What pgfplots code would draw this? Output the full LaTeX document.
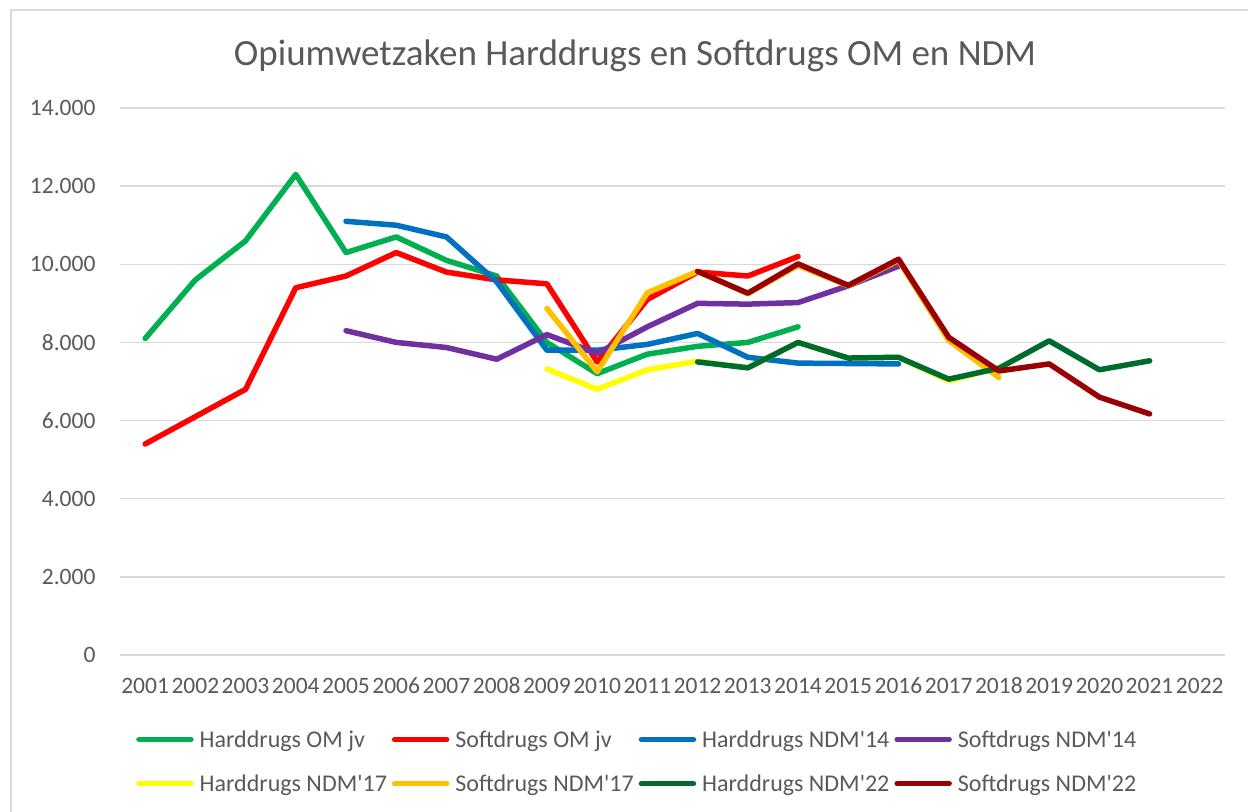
\documentclass[border=0pt]{standalone}
\usepackage{pgfplots}
\pgfplotsset{compat=1.18}
\usepackage{fontspec}
\setmainfont{Carlito}[Ligatures=TeXOff]
\definecolor{cgrid}{HTML}{D9D9D9}
\definecolor{ctext}{HTML}{595959}
\definecolor{cgreen}{HTML}{00B050}
\definecolor{cred}{HTML}{FF0000}
\definecolor{cblue}{HTML}{0070C0}
\definecolor{cpurple}{HTML}{7030A0}
\definecolor{cyellow}{HTML}{FFFF00}
\definecolor{corange}{HTML}{FFC000}
\definecolor{cdgreen}{HTML}{006B2F}
\definecolor{cdred}{HTML}{990000}
\begin{document}
\begin{tikzpicture}
\path[use as bounding box] (0bp,0bp) rectangle (1248bp,812bp);
\draw[cgrid, line width=2bp] (11bp,-10bp) -- (11bp,802bp) -- (1260bp,802bp);
\node[anchor=base, font=\fontsize{37bp}{44bp}\selectfont, text=ctext] at (635bp,746bp) {Opiumwetzaken Harddrugs en Softdrugs OM en NDM};
\begin{axis}[
  at={(120bp,157bp)}, anchor=south west,
  scale only axis, width=1105bp, height=547bp,
  xmin=2000.5, xmax=2022.5, ymin=0, ymax=14000,
  xtick={2001,2002,...,2022},
  ytick={0,2000,...,14000},
  scaled y ticks=false,
  ymajorgrids, major grid style={cgrid, line width=1.5bp},
  axis line style={draw=none}, tick style={draw=none},
  clip=false,
  ticklabel style={font=\fontsize{23.5bp}{28bp}\selectfont, text=ctext},
  /pgf/number format/assume math mode=true,
  yticklabel style={/pgf/number format/fixed, /pgf/number format/1000 sep={.}, xshift=-21bp},
  xticklabel style={/pgf/number format/1000 sep={}, text height=16bp, text depth=0bp, anchor=north, yshift=-19bp},
  every axis plot/.append style={line width=5.5bp, line cap=round, line join=round, mark=none},
  legend columns=4,
  legend cell align=left,
  legend image code/.code={\draw[#1] (0bp,0bp) -- (52bp,0bp);},
  legend style={draw=none, fill=none, at={(0.0118,-0.134)}, anchor=north west,
    font=\fontsize{24bp}{28bp}\selectfont, text=ctext,
    nodes={inner sep=0pt},
    row sep=26bp,
    /tikz/every odd column/.append style={column sep=6bp},
    /tikz/every even column/.append style={column sep=5bp}},
]
\addplot[cgreen] coordinates {(2001,8100)(2002,9600)(2003,10600)(2004,12300)(2005,10300)(2006,10700)(2007,10100)(2008,9700)(2009,8000)(2010,7200)(2011,7700)(2012,7900)(2013,8000)(2014,8400)};
\addlegendentry{Harddrugs OM jv}
\addplot[cred] coordinates {(2001,5400)(2002,6100)(2003,6800)(2004,9400)(2005,9700)(2006,10300)(2007,9800)(2008,9600)(2009,9500)(2010,7500)(2011,9100)(2012,9800)(2013,9700)(2014,10200)};
\addlegendentry{Softdrugs OM jv}
\addplot[cblue] coordinates {(2005,11100)(2006,11000)(2007,10700)(2008,9550)(2009,7800)(2010,7800)(2011,7950)(2012,8230)(2013,7620)(2014,7470)(2015,7460)(2016,7450)};
\addlegendentry{Harddrugs NDM'14}
\addplot[cpurple] coordinates {(2005,8300)(2006,8000)(2007,7870)(2008,7570)(2009,8200)(2010,7720)(2011,8400)(2012,9000)(2013,8980)(2014,9020)(2015,9450)(2016,9950)};
\addlegendentry{Softdrugs NDM'14}
\addplot[cyellow] coordinates {(2009,7320)(2010,6800)(2011,7300)(2012,7520)(2013,7350)(2014,8000)(2015,7600)(2016,7620)(2017,7020)(2018,7350)};
\addlegendentry{Harddrugs NDM'17}
\addplot[corange] coordinates {(2009,8870)(2010,7250)(2011,9270)(2012,9820)(2013,9250)(2014,9970)(2015,9450)(2016,10100)(2017,8050)(2018,7100)};
\addlegendentry{Softdrugs NDM'17}
\addplot[cdgreen] coordinates {(2012,7500)(2013,7350)(2014,8000)(2015,7600)(2016,7620)(2017,7060)(2018,7340)(2019,8040)(2020,7300)(2021,7530)};
\addlegendentry{Harddrugs NDM'22}
\addplot[cdred] coordinates {(2012,9820)(2013,9260)(2014,10010)(2015,9460)(2016,10130)(2017,8130)(2018,7270)(2019,7450)(2020,6600)(2021,6170)};
\addlegendentry{Softdrugs NDM'22}
\end{axis}
\end{tikzpicture}
\end{document}
